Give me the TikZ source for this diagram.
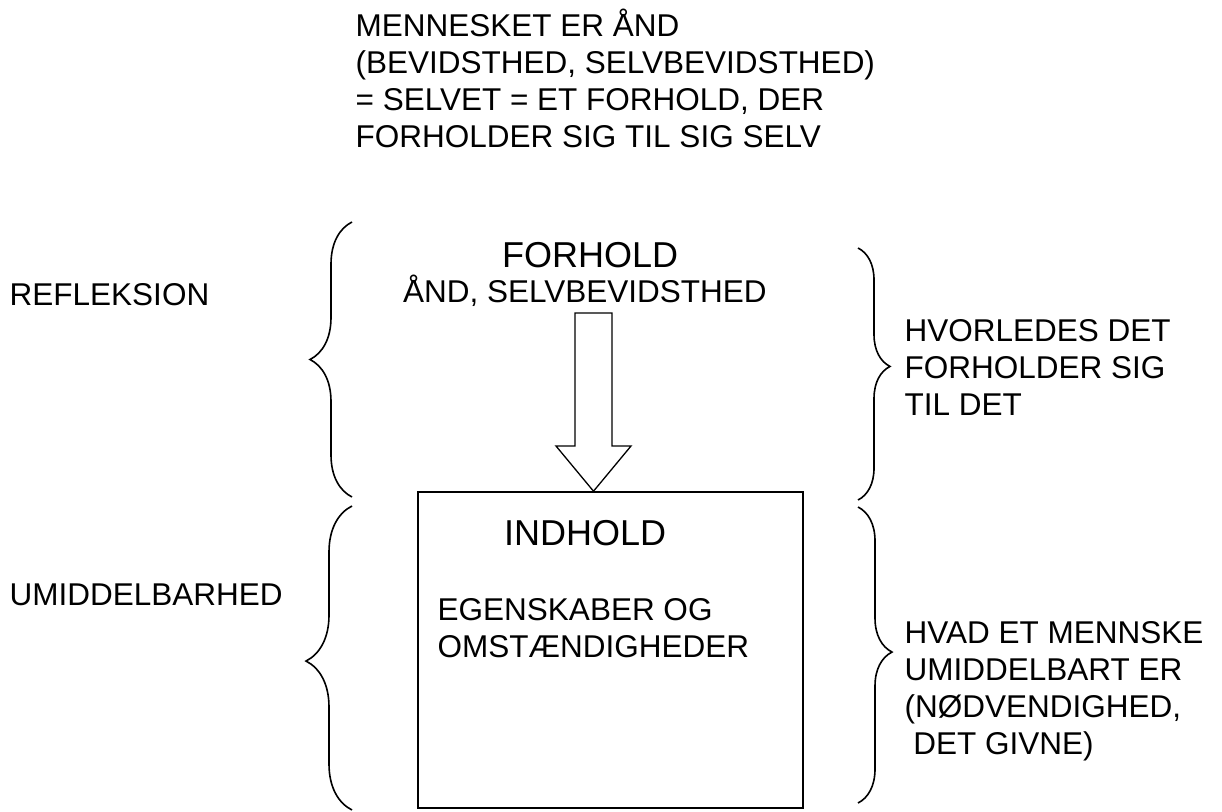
\documentclass[tikz,border=0pt]{standalone}
\usepackage{fontspec}
\setmainfont{Liberation Sans}
\usetikzlibrary{decorations.pathreplacing}
\begin{document}
\begin{tikzpicture}[x=1pt,y=-1pt,
    txt/.style={anchor=base west,inner sep=0pt,align=left,font=\fontsize{31.5}{37}\selectfont},
    big/.style={anchor=base west,inner sep=0pt,font=\fontsize{36}{42}\selectfont},
    brc/.style={draw,line width=1.6pt,decorate,decoration={brace,amplitude=#1}},
    brc/.default=40pt]
  \useasboundingbox (0,0) rectangle (1222,811);
  % title text (anchored at its last line)
  \node[txt] (mennesket) at (355.5,147) {MENNESKET ER ÅND\\(BEVIDSTHED, SELVBEVIDSTHED)\\= SELVET = ET FORHOLD, DER\\FORHOLDER SIG TIL SIG SELV};
  % left labels
  \node[txt] (refl) at (9.5,305) {REFLEKSION};
  \node[txt] (umid) at (9.5,605) {UMIDDELBARHED};
  % upper part
  \node[big] (forhold) at (502,267) {FORHOLD};
  \node[txt] (aand) at (403,302) {ÅND, SELVBEVIDSTHED};
  % lower box
  \node[draw,line width=1.6pt,minimum width=385pt,minimum height=316pt,inner sep=0pt] (box) at (610.5,650) {};
  \node[big] (indhold) at (504,545) {INDHOLD};
  \node[txt] (egensk) at (437.5,657) {EGENSKABER OG\\OMSTÆNDIGHEDER};
  % right labels
  \node[txt] (hvorledes) at (904.5,415) {HVORLEDES DET\\FORHOLDER SIG\\TIL DET};
  \node[txt] (hvad) at (904.5,754) {HVAD ET MENNSKE\\UMIDDELBART ER\\(NØDVENDIGHED,\\ \ DET GIVNE)};
  % arrow
  \draw[line width=1.3pt,line join=miter] (575,313) -- (612,313) -- (612,446) -- (631,446)
    -- (box.north -| 593.5,0) -- (556,446) -- (575,446) -- cycle;
  % braces
  \draw[brc=42pt] (352,497) -- (352,222);
  \draw[brc=46pt,decoration={aspect=0.49}] (352,810) -- (352,506);
  \draw[brc=32pt,decoration={aspect=0.47}] (858,248) -- (858,500);
  \draw[brc=34pt,decoration={aspect=0.49}] (858,507) -- (858,803);
\end{tikzpicture}
\end{document}
